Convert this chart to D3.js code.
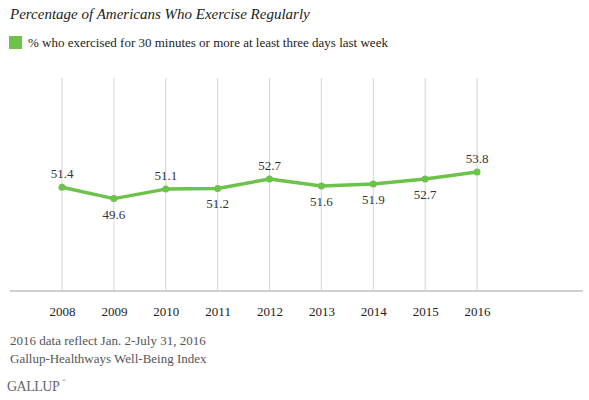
<!DOCTYPE html>
<html><head><meta charset="utf-8">
<script src="https://cdn.jsdelivr.net/npm/d3@7"></script>
<style>body{margin:0;background:#fff}svg text{font-family:"Liberation Serif","Times New Roman","DejaVu Serif",serif !important}</style>
</head><body><svg id="c" width="589" height="400"></svg>
<script>
const years = [2008, 2009, 2010, 2011, 2012, 2013, 2014, 2015, 2016];
const values = [51.4, 49.6, 51.1, 51.2, 52.7, 51.6, 51.9, 52.7, 53.8];
const labelAbove = [true, false, true, false, true, false, false, false, true];

const svg = d3.select('#c');
const green = '#6cc24a';
const x = d3.scaleLinear().domain([2008, 2016]).range([62, 477]);
const y = d3.scaleLinear().domain([35, 70]).range([291, 69.5]);

svg.append('text').attr('x', 10).attr('y', 19).attr('font-size', 15).attr('font-style', 'italic')
  .attr('fill', '#222').text('Percentage of Americans Who Exercise Regularly');
svg.append('rect').attr('x', 9).attr('y', 36).attr('width', 13).attr('height', 13).attr('fill', green);
svg.append('text').attr('x', 28).attr('y', 47).attr('font-size', 13).attr('fill', '#222')
  .text('% who exercised for 30 minutes or more at least three days last week');

svg.selectAll('.grid').data(years).join('line')
  .attr('x1', d => x(d)).attr('x2', d => x(d)).attr('y1', 78).attr('y2', 291)
  .attr('stroke', '#d4d4d4').attr('stroke-width', 1);
svg.append('line').attr('x1', 10).attr('x2', 583).attr('y1', 291).attr('y2', 291)
  .attr('stroke', '#d0d0cc').attr('stroke-width', 2);

svg.append('g').attr('transform', 'translate(0,291)')
  .call(d3.axisBottom(x).tickValues(years).tickFormat(d3.format('d')).tickSize(0).tickPadding(16))
  .call(g => g.select('.domain').remove())
  .call(g => g.selectAll('text').attr('font-size', 13).attr('fill', '#222'));

svg.append('path').datum(values)
  .attr('d', d3.line().x((d, i) => x(years[i])).y(d => y(d)))
  .attr('fill', 'none').attr('stroke', green).attr('stroke-width', 3.5).attr('stroke-linejoin', 'round');
svg.selectAll('.pt').data(values).join('circle')
  .attr('cx', (d, i) => x(years[i])).attr('cy', d => y(d)).attr('r', 3.5).attr('fill', green);
svg.selectAll('.lbl').data(values).join('text')
  .attr('x', (d, i) => x(years[i])).attr('y', (d, i) => y(d) + (labelAbove[i] ? -9 : 20))
  .attr('text-anchor', 'middle').attr('font-size', 13).attr('fill', '#333').text(d => d.toFixed(1));

svg.append('text').attr('x', 10).attr('y', 345).attr('font-size', 13).attr('fill', '#555')
  .text('2016 data reflect Jan. 2-July 31, 2016');
svg.append('text').attr('x', 10).attr('y', 363).attr('font-size', 13).attr('fill', '#555')
  .text('Gallup-Healthways Well-Being Index');
svg.append('text').attr('x', 7).attr('y', 391).attr('font-size', 14).attr('fill', '#666')
  .attr('letter-spacing', -0.5).text('GALLUP');
svg.append('text').attr('x', 62).attr('y', 382).attr('font-size', 5).attr('fill', '#666').text('®');
</script></body></html>
